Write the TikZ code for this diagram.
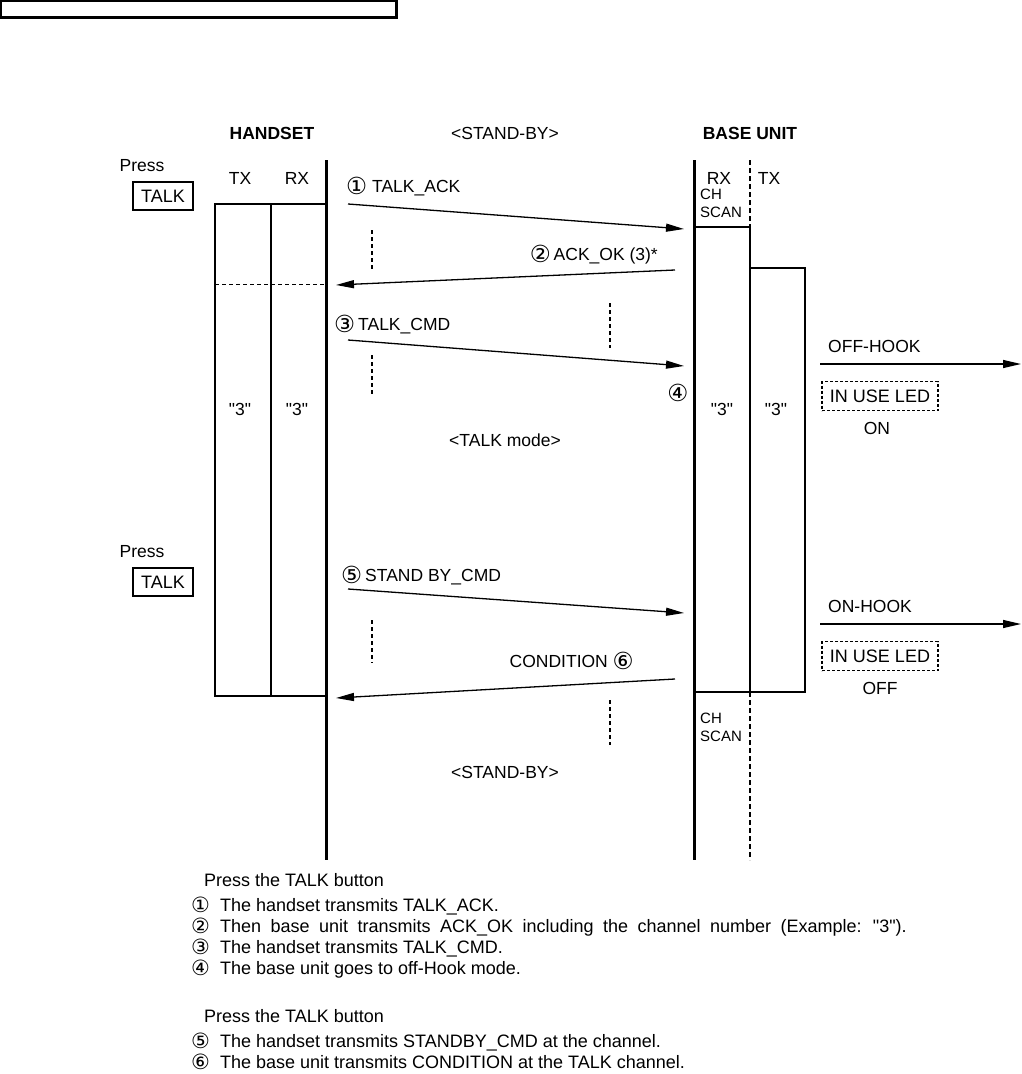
\documentclass[tikz,border=0pt]{standalone}
\usepackage{fontspec}
\setmainfont{Liberation Sans}[Ligatures=TeXOff]
\newfontfamily\dv{DejaVu Sans}
\usetikzlibrary{arrows.meta}
\tikzset{
  lbl/.style={inner sep=0pt, font=\fontsize{17.5}{20}\selectfont},
  small/.style={inner sep=0pt, font=\fontsize{15}{18}\selectfont, align=left},
  hdr/.style={inner sep=0pt, font=\fontsize{17.5}{20}\selectfont\bfseries},
  life/.style={line width=3pt},
  boxline/.style={line width=1.4pt},
  msg/.style={line width=1.3pt, -{Triangle[length=18pt,width=8pt]}},
  dots/.style={line width=1.3pt, dash pattern=on 4pt off 3pt},
  btn/.style={draw, line width=1.2pt, inner sep=0pt, minimum width=60pt, minimum height=28pt, font=\fontsize{18}{20}\selectfont},
  led/.style={draw, line width=1.2pt, dash pattern=on 3pt off 2pt, inner sep=0pt, minimum width=116pt, minimum height=29pt, font=\fontsize{18}{20}\selectfont},
  note/.style={inner sep=0pt, anchor=base west, font=\fontsize{18}{20}\selectfont},
}
\newcommand{\cn}[1]{\raisebox{-2pt}{\dv\fontsize{23.5}{24}\selectfont #1}}
\newcommand{\cm}[1]{\raisebox{-1pt}{\dv\fontsize{21}{21}\selectfont #1}}
\newcommand{\qq}{"}
\newcommand{\nsp}{\hspace{10pt}}
\begin{document}
\begin{tikzpicture}[x=1pt,y=-1pt]
\useasboundingbox (0,0) rectangle (1021,1074);
% top box
\draw[line width=1.5pt] (0.75,0.75) rectangle (396,17);
\draw[line width=3pt] (396,0) -- (396,18.5);
\draw[line width=2pt] (0,17.5) -- (397,17.5);

% headers
\node[hdr] (hhs) at (272,133) {HANDSET};
\node[lbl] (hsb) at (505,133) {<STAND-BY>};
\node[hdr] (hbu) at (750,133) {BASE UNIT};

\node[lbl] (press1) at (142,166) {Press};
\node[btn] (talk1) at (163,196) {TALK};
\node[lbl] (press2) at (142,552) {Press};
\node[btn] (talk2) at (163,582) {TALK};

\node[lbl] (htx) at (240,178) {TX};
\node[lbl] (hrx) at (297,178) {RX};
\node[lbl] (brx) at (719,178) {RX};
\node[lbl] (btx) at (769,178) {TX};

% lifelines
\coordinate (hlt) at (326,160); \coordinate (hlb) at (326,860);
\coordinate (blt) at (694,160); \coordinate (blb) at (694,860);
\draw[life] (hlt) -- (hlb);
\draw[life] (blt) -- (blb);

% handset box
\coordinate (h1) at (215,204); \coordinate (h2) at (215,696);
\coordinate (h3) at (326,696); \coordinate (h4) at (326,204);
\draw[boxline] (h4) -- (h1) -- (h2) -- (h3);
\draw[boxline] (271,204) -- (271,696);
\draw[line width=1pt, dash pattern=on 4pt off 3pt] (215,284) -- (326,284);
\node[lbl] (h3a) at (240,409) {\qq3\qq};
\node[lbl] (h3b) at (297,409) {\qq3\qq};

% base box
\draw[boxline] (694,227) -- (750,227) -- (750,692);
\draw[boxline] (750,268) -- (805,268) -- (805,692) -- (694,692);
\draw[line width=1.2pt, dash pattern=on 5pt off 3pt] (750,160) -- (750,227);
\draw[line width=1.2pt, dash pattern=on 5pt off 3pt] (750,692) -- (750,860);
\node[small, anchor=north west] (cs1) at (700,189) {CH\\SCAN};
\node[small, anchor=north west] (cs2) at (700,713) {CH\\SCAN};
\node[lbl] (b3a) at (722,409) {\qq3\qq};
\node[lbl] (b3b) at (776,409) {\qq3\qq};

% messages
\coordinate (m1s) at (348,204); \coordinate (m1e) at (684,229);
\draw[msg] (m1s) -- (m1e);
\node[lbl, anchor=base west] (l1) at (346,192) {\cn{①}\ TALK\_ACK};

\coordinate (m2s) at (675,270); \coordinate (m2e) at (336,285);
\draw[msg] (m2s) -- (m2e);
\node[lbl, anchor=base east] (l2) at (658,260) {\cn{②}\,ACK\_OK (3)*};

\coordinate (m3s) at (348,340); \coordinate (m3e) at (684,366);
\draw[msg] (m3s) -- (m3e);
\node[lbl, anchor=base west] (l3) at (334,330) {\cn{③}\,TALK\_CMD};
\node[lbl, anchor=base] (l4) at (678,399) {\cn{④}};

\node[lbl] (talkmode) at (505,440) {<TALK mode>};

\coordinate (m5s) at (348,589); \coordinate (m5e) at (684,613);
\draw[msg] (m5s) -- (m5e);
\node[lbl, anchor=base west] (l5) at (341,581) {\cn{⑤}\,STAND BY\_CMD};

\coordinate (m6s) at (675,679); \coordinate (m6e) at (336,698);
\draw[msg] (m6s) -- (m6e);
\node[lbl, anchor=base east] (l6) at (634,667) {CONDITION \cn{⑥}};

\node[lbl] (sb2) at (505,772) {<STAND-BY>};

% dotted markers
\draw[dots] (372,230) -- (372,270);
\draw[dots] (610,303) -- (610,348);
\draw[dots] (372,355) -- (372,395);
\draw[dots] (372,620) -- (372,663);
\draw[dots] (610,700) -- (610,745);

% right side
\coordinate (oh1s) at (820,364); \coordinate (oh1e) at (1021,364);
\draw[msg] (oh1s) -- (oh1e);
\node[lbl, anchor=base west] (offhook) at (828,352) {OFF-HOOK};
\node[led] (led1) at (880,396) {IN USE LED};
\node[lbl] (on) at (877,428) {ON};

\coordinate (oh2s) at (820,624); \coordinate (oh2e) at (1021,624);
\draw[msg] (oh2s) -- (oh2e);
\node[lbl, anchor=base west] (onhook) at (828,612) {ON-HOOK};
\node[led] (led2) at (880,656) {IN USE LED};
\node[lbl] (off) at (880,688) {OFF};

% notes
\node[note] (n0) at (204,886) {Press the TALK button};
\node[note] (n1) at (191,911) {\cm{①}\nsp The handset transmits TALK\_ACK.};
\node[note] (n2) at (191,932) {\cm{②}\nsp\spaceskip=9.5pt Then base unit transmits ACK\_OK including the channel number (Example: \qq3\qq).};
\node[note] (n3) at (191,953) {\cm{③}\nsp The handset transmits TALK\_CMD.};
\node[note] (n4) at (191,974) {\cm{④}\nsp The base unit goes to off-Hook mode.};
\node[note] (n5) at (204,1022) {Press the TALK button};
\node[note] (n6) at (191,1047) {\cm{⑤}\nsp The handset transmits STANDBY\_CMD at the channel.};
\node[note] (n7) at (191,1068) {\cm{⑥}\nsp The base unit transmits CONDITION at the TALK channel.};
\end{tikzpicture}
\end{document}
